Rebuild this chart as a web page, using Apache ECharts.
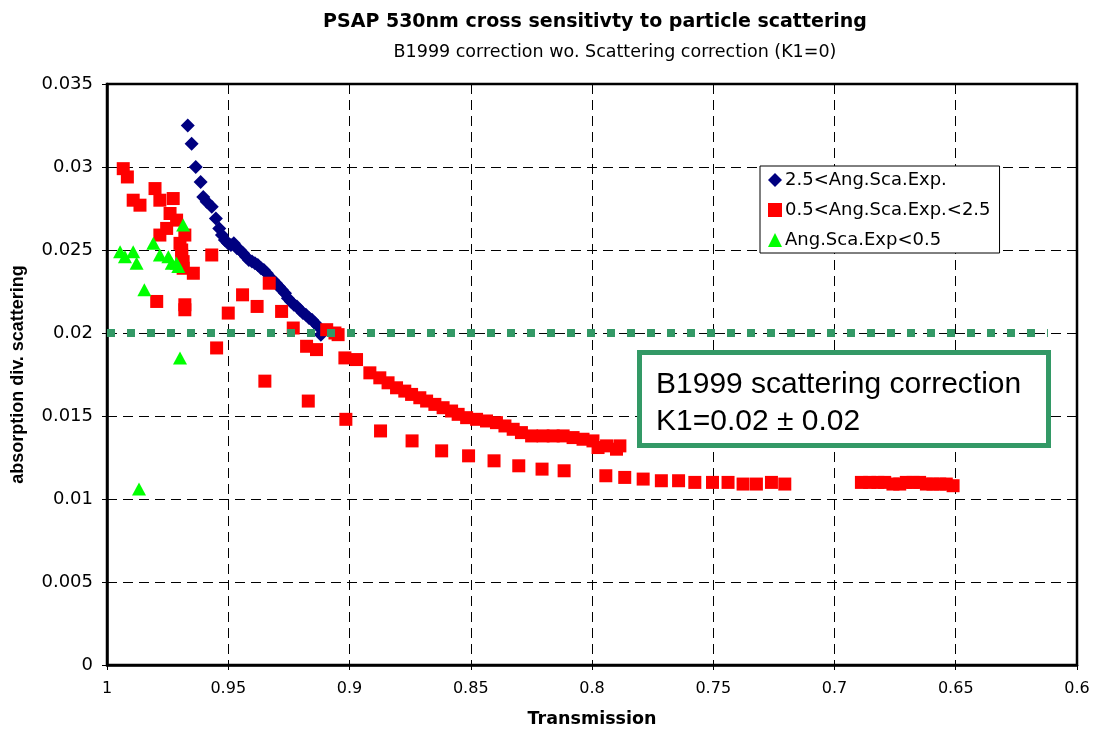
<!DOCTYPE html>
<html>
<head>
<meta charset="utf-8">
<title>PSAP 530nm cross sensitivity</title>
<script src="https://cdn.jsdelivr.net/npm/echarts@6/dist/echarts.min.js"></script>
<style>
  html, body { margin: 0; padding: 0; background: #fff; }
  #chart { width: 1098px; height: 733px; }
</style>
</head>
<body>
<div id="chart"></div>
<script>
// [transmission, absorption/scattering]
var highExp = [
  [0.9667, 0.0325], [0.9651, 0.0314], [0.9634, 0.0300], [0.9614, 0.0291],
  [0.9603, 0.0282], [0.9589, 0.0279], [0.9568, 0.0276], [0.9551, 0.0269],
  [0.9537, 0.0263], [0.9526, 0.0259], [0.9514, 0.0256], [0.9501, 0.0254],
  [0.9489, 0.0253], [0.9477, 0.0254], [0.9464, 0.0251], [0.9452, 0.0250],
  [0.9439, 0.0248], [0.9427, 0.0246], [0.9415, 0.0244], [0.9402, 0.0243],
  [0.9390, 0.0242], [0.9378, 0.0241], [0.9365, 0.0239], [0.9353, 0.0238],
  [0.9341, 0.0236], [0.9328, 0.0233], [0.9316, 0.0232], [0.9303, 0.0230],
  [0.9291, 0.0228], [0.9279, 0.0226], [0.9266, 0.0224], [0.9254, 0.0221],
  [0.9242, 0.0219], [0.9229, 0.0217], [0.9217, 0.0216], [0.9205, 0.0214],
  [0.9192, 0.0212], [0.9180, 0.0211], [0.9167, 0.0209], [0.9155, 0.0208],
  [0.9143, 0.0206], [0.9130, 0.0204], [0.9118, 0.0199]
];

var midExp = [
  [0.9933, 0.0299], [0.9916, 0.0294], [0.9892, 0.0280], [0.9864, 0.0277],
  [0.9802, 0.0287], [0.9782, 0.0280], [0.9727, 0.0281], [0.9740, 0.0272],
  [0.9713, 0.0268], [0.9754, 0.0263], [0.9782, 0.0259], [0.9679, 0.0259],
  [0.9699, 0.0254], [0.9692, 0.0250], [0.9692, 0.0247], [0.9686, 0.0243],
  [0.9686, 0.0239], [0.9644, 0.0236], [0.9568, 0.0247], [0.9331, 0.0230],
  [0.9795, 0.0219], [0.9679, 0.0217], [0.9679, 0.0214], [0.9441, 0.0223],
  [0.9381, 0.0216], [0.9280, 0.0213], [0.9500, 0.0212], [0.9232, 0.0203],
  [0.9094, 0.0202], [0.9047, 0.0199], [0.9177, 0.0192], [0.9136, 0.0190],
  [0.9548, 0.0191], [0.9349, 0.0171], [0.9170, 0.0159], [0.9019, 0.0185],
  [0.9060, 0.0200], [0.8971, 0.0184], [0.8916, 0.0176], [0.8875, 0.0173],
  [0.8841, 0.0170], [0.8806, 0.0167], [0.8772, 0.0165], [0.8744, 0.0163],
  [0.8710, 0.0161], [0.8682, 0.0159], [0.8648, 0.0157], [0.8614, 0.0155],
  [0.8579, 0.0153], [0.8552, 0.0151], [0.8517, 0.0149], [0.8476, 0.0148],
  [0.8435, 0.0147], [0.8394, 0.0146], [0.8359, 0.0144], [0.8325, 0.0142],
  [0.8291, 0.0140], [0.8249, 0.0138], [0.8202, 0.0138], [0.8160, 0.0138],
  [0.8119, 0.0138], [0.8078, 0.0137], [0.8037, 0.0136], [0.7996, 0.0135],
  [0.7975, 0.0131], [0.7940, 0.0132], [0.7899, 0.0130], [0.7885, 0.0132],
  [0.9015, 0.0148], [0.8872, 0.0141], [0.8742, 0.0135], [0.8620, 0.0129],
  [0.8509, 0.0126], [0.8404, 0.0123], [0.8302, 0.0120], [0.8206, 0.0118],
  [0.8115, 0.0117], [0.7943, 0.0114], [0.7865, 0.0113], [0.7789, 0.0112],
  [0.7714, 0.0111], [0.7643, 0.0111], [0.7576, 0.0110], [0.7503, 0.0110],
  [0.7439, 0.0110], [0.7377, 0.0109], [0.7322, 0.0109], [0.7260, 0.0110],
  [0.7205, 0.0109],
  [0.6889, 0.0110], [0.6855, 0.0110], [0.6821, 0.0110], [0.6793, 0.0110],
  [0.6759, 0.0109], [0.6731, 0.0109], [0.6704, 0.0110], [0.6676, 0.0110],
  [0.6649, 0.0110], [0.6621, 0.0109], [0.6594, 0.0109], [0.6566, 0.0109],
  [0.6539, 0.0109], [0.6511, 0.0108]
];

var lowExp = [
  [0.9946, 0.0249], [0.9926, 0.0246], [0.9892, 0.0249], [0.9878, 0.0242],
  [0.9809, 0.0254], [0.9782, 0.0247], [0.9747, 0.0246], [0.9733, 0.0242],
  [0.9713, 0.0242], [0.9706, 0.0240], [0.9686, 0.0265], [0.9846, 0.0226],
  [0.9699, 0.0185], [0.9868, 0.0106]
];

// B1999 scattering correction K1 = 0.02
var k1Line = [[1.0, 0.02], [0.612, 0.02]];

var seriesNames = ['2.5<Ang.Sca.Exp.', '0.5<Ang.Sca.Exp.<2.5', 'Ang.Sca.Exp<0.5'];
var boxText = ['B1999 scattering correction', 'K1=0.02 \u00b1 0.02'];

// the reference text is drawn wide, DejaVu Sans comes closest
var WIDE = '"DejaVu Sans", Verdana, sans-serif';
var ARIAL = '"Liberation Sans", Arial, sans-serif';
var chart = echarts.init(document.getElementById('chart'));

function fmt(v) {
  return String(parseFloat(v.toFixed(3)));
}

var option = {
  animation: false,
  textStyle: { fontFamily: WIDE },
  title: [
    {
      text: 'PSAP 530nm cross sensitivty to particle scattering',
      left: 590, top: 8, textAlign: 'center',
      textStyle: { fontSize: 19, fontWeight: 'bold', color: '#000', fontFamily: WIDE }
    },
    {
      text: 'B1999 correction wo. Scattering correction (K1=0)',
      left: 610, top: 38, textAlign: 'center',
      textStyle: { fontSize: 17.5, fontWeight: 'normal', color: '#000', fontFamily: WIDE }
    }
  ],
  grid: {
    left: 107, right: 21, top: 84, bottom: 67,
    show: true, borderColor: '#000', borderWidth: 2.5
  },
  legend: {
    orient: 'vertical',
    left: 760, top: 166,
    padding: [5, 9, 4, 8],
    itemGap: 12,
    itemWidth: 14, itemHeight: 14,
    backgroundColor: '#fff',
    borderColor: '#000', borderWidth: 1,
    data: seriesNames,
    textStyle: { fontSize: 18, color: '#000', fontFamily: WIDE, padding: [0, 0, 0, -2] }
  },
  xAxis: {
    type: 'value',
    inverse: true,
    min: 0.6, max: 1, interval: 0.05,
    name: 'Transmission',
    nameLocation: 'middle',
    nameGap: 45,
    nameTextStyle: { fontSize: 17.5, fontWeight: 'bold', color: '#000', fontFamily: WIDE },
    axisLine: { show: true, lineStyle: { color: '#000', width: 2.5 } },
    axisTick: { show: true, length: 5, lineStyle: { color: '#000' } },
    axisLabel: { fontSize: 16, color: '#000', margin: 16, formatter: fmt, fontFamily: WIDE },
    splitLine: { show: true, lineStyle: { color: '#000', type: [10, 6], width: 1 } }
  },
  yAxis: {
    type: 'value',
    min: 0, max: 0.035, interval: 0.005,
    name: 'absorption div. scattering',
    nameLocation: 'middle',
    nameGap: 80,
    nameTextStyle: { fontSize: 18, fontWeight: 'bold', color: '#000', fontFamily: ARIAL },
    axisLine: { show: true, lineStyle: { color: '#000', width: 2.5 } },
    axisTick: { show: true, length: 5, lineStyle: { color: '#000' } },
    axisLabel: { fontSize: 18, color: '#000', margin: 14, formatter: fmt, fontFamily: WIDE },
    splitLine: { show: true, lineStyle: { color: '#000', type: [10, 6], width: 1 } }
  },
  series: [
    {
      name: seriesNames[0],
      type: 'scatter',
      data: highExp,
      symbol: 'diamond',
      symbolSize: 14,
      itemStyle: { color: '#000080', opacity: 1 },
      z: 3
    },
    {
      name: seriesNames[1],
      type: 'scatter',
      data: midExp,
      symbol: 'rect',
      symbolSize: 13,
      itemStyle: { color: '#ff0000', opacity: 1 },
      z: 4
    },
    {
      name: seriesNames[2],
      type: 'scatter',
      data: lowExp,
      symbol: 'triangle',
      symbolSize: [14, 13],
      itemStyle: { color: '#00ff00', opacity: 1 },
      z: 5
    },
    {
      name: 'K1',
      type: 'line',
      data: k1Line,
      symbol: 'none',
      silent: true,
      z: 6,
      lineStyle: { color: '#339966', width: 8, type: [8, 12], cap: 'butt' }
    }
  ],
  graphic: [
    {
      type: 'rect',
      left: 637, top: 350,
      z: 100,
      shape: { width: 409, height: 93 },
      style: { fill: '#fff', stroke: '#339966', lineWidth: 5 }
    },
    {
      type: 'text',
      left: 656, top: 366,
      z: 101,
      style: {
        text: boxText.join('\n'),
        font: '30px ' + ARIAL,
        lineHeight: 37,
        fill: '#000'
      }
    }
  ]
};

chart.setOption(option);
</script>
</body>
</html>
